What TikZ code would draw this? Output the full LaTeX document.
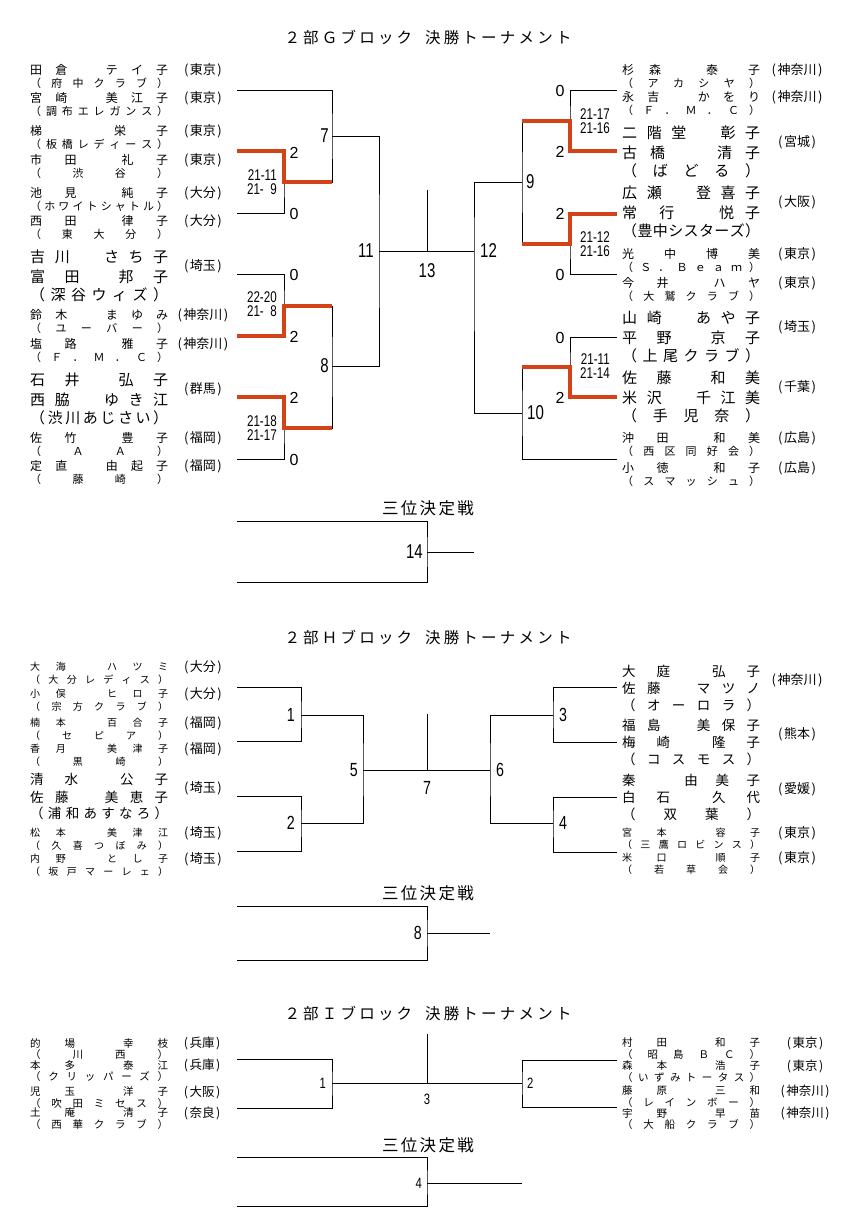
\documentclass[tikz,border=0pt]{standalone}
\usepackage{fontspec}
\setmainfont{Noto Sans CJK JP}
\newfontfamily\numfont{Liberation Sans}[FakeStretch=0.75]
\newfontfamily\cntfont{Liberation Sans}
\usetikzlibrary{calc, positioning}
\definecolor{winRed}{RGB}{212, 66, 24}

%% spread the characters of #2 evenly over a box #1 wide
\newcommand\spr[2][138pt]{\makebox[#1][s]{\expandafter\sprA#2\relax}}
\def\sprA#1{#1\futurelet\sprN\sprB}
\def\sprB{\ifx\sprN\relax\expandafter\sprZ\else\hfill\expandafter\sprA\fi}
\def\sprZ\relax{}
\newcommand\prf[1]{(\kern1.5pt#1\kern1.5pt)}

\begin{document}
\begin{tikzpicture}[
  x=1pt, y=-1pt,
  %% bracket line
  brk/.style={line width=0.8pt},
  %% winner path
  win/.style={draw=winRed, line width=3.5pt},
  %% player rows
  plyr/.style={anchor=west, inner sep=0pt},
  gNm/.style={plyr, font=\fontsize{12}{14}\selectfont},
  gCl/.style={plyr, font=\fontsize{11}{13}\selectfont},
  gBig/.style={plyr, font=\fontsize{15}{17}\selectfont},
  hNm/.style={plyr, font=\fontsize{10}{12}\selectfont},
  hBig/.style={plyr, font=\fontsize{13.5}{15}\selectfont},
  iNm/.style={plyr, font=\fontsize{10.5}{12}\selectfont},
  %% prefecture tag
  pref/.style={inner sep=0pt, font=\fontsize{13}{15}\selectfont},
  iPref/.style={inner sep=0pt, font=\fontsize{12.5}{14}\selectfont},
  %% match numbers
  mno/.style={inner sep=0pt, font=\numfont\fontsize{20}{20}\selectfont},
  hMno/.style={inner sep=0pt, font=\numfont\fontsize{19}{19}\selectfont},
  iMno/.style={inner sep=0pt, font=\numfont\fontsize{15}{15}\selectfont},
  %% games won
  cnt/.style={inner sep=0pt, font=\cntfont\fontsize{16}{16}\selectfont},
  %% game scores (one line each)
  scr/.style={inner sep=0pt, anchor=east, font=\numfont\fontsize{15.5}{15.5}\selectfont},
  %% headings
  ttl/.style={inner sep=0pt, font=\fontsize{15.5}{17}\selectfont},
  ttl3/.style={inner sep=0pt, font=\fontsize{16.5}{18}\selectfont},
]

\fill[white] (0,0) rectangle (843,1225);
\useasboundingbox (0,0) rectangle (843,1225);

%% ── X positions ────────────────────────────────────────────────────────────
\def\xLn{30}    % left names
\def\xRn{622}   % right names
\def\xLp{203}   % left prefecture
\def\xRp{797}   % right prefecture
\def\xLe{237}   % left line ends
\def\xRe{617}   % right line ends
\def\xLs{277}   % left score right edge
\def\xRs{610}   % right score right edge

%% ════════════════════════════════════════════════════════════════════════════
%% ── G BLOCK ────────────────────────────────────────────────────────────────
\node[ttl] (gTitle) at (428,37) {\spr[287pt]{２部Ｇブロック{}{}{}決勝トーナメント}};

%% left players
\foreach \y/\txt/\clb/\pf [count=\i] in {
  70/田倉　テイ子/（府中クラブ）/東京,
  98/宮崎　美江子/（調布エレガンス）/東京,
  131/梯　栄子/（板橋レディース）/東京,
  160/市田{}礼子/（渋谷）/東京,
  193/池見{}純子/（ホワイトシャトル）/大分,
  221/西田{}律子/（東大分）/大分,
  315/鈴木　まゆみ/（ユーバー）/神奈川,
  344/塩路{}雅子/（Ｆ．Ｍ．Ｃ）/神奈川,
  438/佐竹{}豊子/（ＡＡ）/福岡,
  466/定直　由起子/（藤崎）/福岡}{
  \node[gNm] (gLn\i) at (\xLn,\y) {\spr{\txt}};
  \node[gCl] (gLc\i) at (\xLn,\y+13.5) {\spr{\clb}};
  \node[pref] (gLp\i) at (\xLp,\y) {\prf{\pf}};
}
\foreach \y/\txa/\txb/\clb/\pf [count=\i] in {
  257/吉川　さち子/富田{}邦子/（深谷ウィズ）/埼玉,
  380/石井{}弘子/西脇　ゆき江/（渋川あじさい）/群馬}{
  \node[gBig] (gLa\i) at (\xLn,\y) {\spr{\txa}};
  \node[gBig] (gLb\i) at (\xLn,\y+20) {\spr{\txb}};
  \node[gBig] (gLk\i) at (\xLn,\y+38) {\spr{\clb}};
  \node[pref] (gLq\i) at (\xLp,\y+9.5) {\prf{\pf}};
}

%% right players
\foreach \y/\txt/\clb/\pf [count=\i] in {
  70/杉森{}{}泰{}子/（アカシヤ）/神奈川,
  97/永吉　かをり/（Ｆ．Ｍ．Ｃ）/神奈川,
  254/光中博美/（Ｓ．Ｂｅａｍ）/東京,
  283/今井{}ハヤ/（大鷲クラブ）/東京,
  438/沖田{}和美/（西区同好会）/広島,
  468/小徳{}和子/（スマッシュ）/広島}{
  \node[gNm] (gRn\i) at (\xRn,\y) {\spr{\txt}};
  \node[gCl] (gRc\i) at (\xRn,\y+13.5) {\spr{\clb}};
  \node[pref] (gRp\i) at (\xRp,\y) {\prf{\pf}};
}
\foreach \y/\txa/\txb/\clb/\pf [count=\i] in {
  133/二階堂　彰子/古橋{}{}{}清子/（ばどる）/宮城,
  193/広瀬　登喜子/常{}行{}{}{}悦子/（豊中シスターズ）/大阪,
  318/山崎　あや子/平野{}京子/（上尾クラブ）/埼玉,
  378/佐藤{}和美/米沢　千江美/（手児奈）/千葉}{
  \node[gBig] (gRa\i) at (\xRn,\y) {\spr{\txa}};
  \node[gBig] (gRb\i) at (\xRn,\y+20) {\spr{\txb}};
  \node[gBig] (gRk\i) at (\xRn,\y+38) {\spr{\clb}};
  \node[pref] (gRq\i) at (\xRp,\y+9.5) {\prf{\pf}};
}

%% bracket points
\coordinate (gL1) at (\xLe,90);
\coordinate (gL2) at (\xLe,151);
\coordinate (gL3) at (\xLe,213);
\coordinate (gL4) at (\xLe,274);
\coordinate (gL5) at (\xLe,336);
\coordinate (gL6) at (\xLe,397);
\coordinate (gL7) at (\xLe,459);
\coordinate (gR1) at (\xRe,90);
\coordinate (gR2) at (\xRe,151);
\coordinate (gR3) at (\xRe,214);
\coordinate (gR4) at (\xRe,274);
\coordinate (gR5) at (\xRe,337);
\coordinate (gR6) at (\xRe,397);
\coordinate (gR7) at (\xRe,459);
\coordinate (gJa) at (284,182);
\coordinate (gJb) at (284,306);
\coordinate (gJc) at (284,428);
\coordinate (gJ7) at (332,136);
\coordinate (gJ8) at (332,366);
\coordinate (gJ11) at (379,251);
\coordinate (gJ13) at (427,251);
\coordinate (gT13) at (427,190);
\coordinate (gJ12) at (474,251);
\coordinate (gJ9) at (522,182);
\coordinate (gJ10) at (522,413);
\coordinate (gJd) at (570,121);
\coordinate (gJe) at (570,244);
\coordinate (gJf) at (570,367);

%% bracket lines
\draw[brk] (gL2) -| (gJa) |- (gL3);
\draw[brk] (gL4) -| (gJb) |- (gL5);
\draw[brk] (gL6) -| (gJc) |- (gL7);
\draw[brk] (gL1) -| (gJ7) |- (gJa);
\draw[brk] (gJb) -| (gJ8) |- (gJc);
\draw[brk] (gJ7) -| (gJ11) |- (gJ8);
\draw[brk] (gJ11) -- (gJ12);
\draw[brk] (gT13) -- (gJ13);
\draw[brk] (gJ9) -| (gJ12) |- (gJ10);
\draw[brk] (gJd) -| (gJ9) |- (gJe);
\draw[brk] (gJf) -| (gJ10) |- (gR7);
\draw[brk] (gR1) -| (gJd) |- (gR2);
\draw[brk] (gR3) -| (gJe) |- (gR4);
\draw[brk] (gR5) -| (gJf) |- (gR6);

%% winners
\draw[win] (gL2) -| (gJa) -- (gJa -| gJ7);
\draw[win] (gL5) -| (gJb) -- (gJb -| gJ8);
\draw[win] (gL6) -| (gJc) -- (gJc -| gJ8);
\draw[win] (gR2) -| (gJd) -- (gJd -| gJ9);
\draw[win] (gR3) -| (gJe) -- (gJe -| gJ9);
\draw[win] (gR6) -| (gJf) -- (gJf -| gJ10);

%% match numbers
\node[mno, left=3pt of gJ7] (gN7) {7};
\node[mno, left=3pt of gJ8] (gN8) {8};
\node[mno, left=5pt of gJ11] (gN11) {11};
\node[mno, below=12pt of gJ13] (gN13) {13};
\node[mno, right=6pt of gJ12] (gN12) {12};
\node[mno, right=4pt of gJ9] (gN9) {9};
\node[mno, right=5pt of gJ10] (gN10) {10};

%% games won
\node[cnt] (gCa) at (294,153) {2};
\node[cnt] (gCb) at (294,214) {0};
\node[cnt] (gCc) at (294,275) {0};
\node[cnt] (gCd) at (294,337) {2};
\node[cnt] (gCe) at (294,398) {2};
\node[cnt] (gCf) at (294,460) {0};
\node[cnt] (gCg) at (560,91) {0};
\node[cnt] (gCh) at (560,152) {2};
\node[cnt] (gCi) at (560,214) {2};
\node[cnt] (gCj) at (560,275) {0};
\node[cnt] (gCk) at (560,338) {0};
\node[cnt] (gCl) at (560,398) {2};

%% scores
\foreach \x/\y/\sa/\sb [count=\i] in {
  \xLs/182/21-11/21-\phantom{1}9,
  \xLs/304/22-20/21-\phantom{1}8,
  \xLs/428/21-18/21-17,
  \xRs/121/21-17/21-16,
  \xRs/244/21-12/21-16,
  \xRs/366/21-11/21-14}{
  \node[scr] (gSa\i) at (\x,\y-7) {\sa};
  \node[scr] (gSb\i) at (\x,\y+7.5) {\sb};
}

%% third place
\node[ttl3] (g3Title) at (428,508) {\spr[92pt]{三位決定戦}};
\coordinate (g3a) at (\xLe,521);
\coordinate (g3b) at (\xLe,582);
\coordinate (gJ14) at (427,552);
\coordinate (gO14) at (474,552);
\draw[brk] (g3a) -| (gJ14) |- (g3b);
\draw[brk] (gJ14) -- (gO14);
\node[mno, left=4pt of gJ14] (gN14) {14};

%% ════════════════════════════════════════════════════════════════════════════
%% ── H BLOCK ────────────────────────────────────────────────────────────────
\node[ttl] (hTitle) at (428,637) {\spr[287pt]{２部Ｈブロック{}{}{}決勝トーナメント}};

\foreach \y/\txt/\clb/\pf [count=\i] in {
  667/大海　ハツミ/（大分レディス）/大分,
  694/小俣　ヒロ子/（宗方クラブ）/大分,
  723/楠本　百合子/（セピア）/福岡,
  749/香月　美津子/（黒崎）/福岡,
  833/松本　美津江/（久喜つぼみ）/埼玉,
  859/内野　とし子/（坂戸マーレェ）/埼玉}{
  \node[hNm] (hLn\i) at (\xLn,\y) {\spr{\txt}};
  \node[hNm] (hLc\i) at (\xLn,\y+13) {\spr{\clb}};
  \node[pref] (hLp\i) at (\xLp,\y) {\prf{\pf}};
}
\node[hBig] (hLa1) at (\xLn,779) {\spr{清水{}公子}};
\node[hBig] (hLb1) at (\xLn,797) {\spr{佐藤　美恵子}};
\node[hBig] (hLk1) at (\xLn,813) {\spr{（浦和あすなろ）}};
\node[pref] (hLq1) at (\xLp,788) {\prf{埼玉}};

\foreach \y/\txa/\txb/\clb/\pf [count=\i] in {
  671/大庭{}弘子/佐藤　マツノ/（オーロラ）/神奈川,
  725/福島　美保子/梅崎{}隆子/（コスモス）/熊本,
  780/秦　由美子/白石{}久代/（双葉）/愛媛}{
  \node[hBig] (hRa\i) at (\xRn,\y) {\spr{\txa}};
  \node[hBig] (hRb\i) at (\xRn,\y+17) {\spr{\txb}};
  \node[hBig] (hRk\i) at (\xRn,\y+34) {\spr{\clb}};
  \node[pref] (hRq\i) at (\xRp,\y+9) {\prf{\pf}};
}
\foreach \y/\txt/\clb/\pf [count=\i] in {
  833/宮本{}容子/（三鷹ロビンス）/東京,
  858/米口{}順子/（若草会）/東京}{
  \node[hNm] (hRn\i) at (\xRn,\y) {\spr{\txt}};
  \node[hNm] (hRc\i) at (\xRn,\y+12) {\spr{\clb}};
  \node[pref] (hRp\i) at (\xRp,\y) {\prf{\pf}};
}

%% bracket points
\coordinate (hL1) at (\xLe,687);
\coordinate (hL2) at (\xLe,741);
\coordinate (hL3) at (\xLe,796);
\coordinate (hL4) at (\xLe,851);
\coordinate (hR1) at (\xRe,687);
\coordinate (hR2) at (\xRe,742);
\coordinate (hR3) at (\xRe,797);
\coordinate (hR4) at (\xRe,852);
\coordinate (hJ1) at (301,715);
\coordinate (hJ2) at (301,823);
\coordinate (hJ5) at (363,770);
\coordinate (hJ7) at (427,770);
\coordinate (hT7) at (427,714);
\coordinate (hJ6) at (490,770);
\coordinate (hJ3) at (553,715);
\coordinate (hJ4) at (553,823);

\draw[brk] (hL1) -| (hJ1) |- (hL2);
\draw[brk] (hL3) -| (hJ2) |- (hL4);
\draw[brk] (hJ1) -| (hJ5) |- (hJ2);
\draw[brk] (hJ5) -- (hJ6);
\draw[brk] (hT7) -- (hJ7);
\draw[brk] (hJ3) -| (hJ6) |- (hJ4);
\draw[brk] (hR1) -| (hJ3) |- (hR2);
\draw[brk] (hR3) -| (hJ4) |- (hR4);

\node[hMno, left=6pt of hJ1] (hN1) {1};
\node[hMno, left=6pt of hJ2] (hN2) {2};
\node[hMno, left=5pt of hJ5] (hN5) {5};
\node[hMno, below=11pt of hJ7] (hN7) {7};
\node[hMno, right=6pt of hJ6] (hN6) {6};
\node[hMno, right=6pt of hJ3] (hN3) {3};
\node[hMno, right=6pt of hJ4] (hN4) {4};

%% third place
\node[ttl3] (h3Title) at (428,893) {\spr[92pt]{三位決定戦}};
\coordinate (h3a) at (\xLe,906);
\coordinate (h3b) at (\xLe,960);
\coordinate (hJ8) at (427,933);
\coordinate (hO8) at (490,933);
\draw[brk] (h3a) -| (hJ8) |- (h3b);
\draw[brk] (hJ8) -- (hO8);
\node[hMno, left=5pt of hJ8] (hN8) {8};

%% ════════════════════════════════════════════════════════════════════════════
%% ── I BLOCK ────────────────────────────────────────────────────────────────
\node[ttl] (iTitle) at (428,1013) {\spr[287pt]{２部Ｉブロック{}{}{}決勝トーナメント}};

\foreach \y/\txt/\clb/\pf [count=\i] in {
  1043/的場{}幸枝/（川西）/兵庫,
  1065/本多{}泰江/（クリッパーズ）/兵庫,
  1092/児玉{}洋子/（吹田ミセス）/大阪,
  1113/土庵{}清子/（西華クラブ）/奈良}{
  \node[iNm] (iLn\i) at (\xLn,\y) {\spr{\txt}};
  \node[iNm] (iLc\i) at (\xLn,\y+11) {\spr{\clb}};
  \node[iPref] (iLp\i) at (202,\y) {\prf{\pf}};
}
\foreach \y/\txt/\clb/\pf [count=\i] in {
  1043/村田{}和子/（昭島ＢＣ）/東京,
  1066/森本{}浩子/（いずみトータス）/東京,
  1091/藤原{}三和/（レインボー）/神奈川,
  1113/宇野{}早苗/（大船クラブ）/神奈川}{
  \node[iNm] (iRn\i) at (\xRn,\y) {\spr{\txt}};
  \node[iNm] (iRc\i) at (\xRn,\y+11) {\spr{\clb}};
  \node[iPref] (iRp\i) at (805,\y) {\prf{\pf}};
}

\coordinate (iL1) at (\xLe,1059);
\coordinate (iL2) at (\xLe,1108);
\coordinate (iR1) at (\xRe,1060);
\coordinate (iR2) at (\xRe,1107);
\coordinate (iJ1) at (332,1083);
\coordinate (iJ3) at (427,1083);
\coordinate (iT3) at (427,1034);
\coordinate (iJ2) at (522,1083);

\draw[brk] (iL1) -| (iJ1) |- (iL2);
\draw[brk] (iJ1) -- (iJ2);
\draw[brk] (iT3) -- (iJ3);
\draw[brk] (iR1) -| (iJ2) |- (iR2);

\node[iMno, left=6pt of iJ1] (iN1) {1};
\node[iMno, right=5pt of iJ2] (iN2) {2};
\node[iMno, below=11pt of iJ3] (iN3) {3};

%% third place
\node[ttl3] (i3Title) at (428,1145) {\spr[92pt]{三位決定戦}};
\coordinate (i3a) at (\xLe,1157);
\coordinate (i3b) at (\xLe,1206);
\coordinate (iJ4) at (427,1183);
\coordinate (iO4) at (522,1183);
\draw[brk] (i3a) -| (iJ4) |- (i3b);
\draw[brk] (iJ4) -- (iO4);
\node[iMno, left=5pt of iJ4] (iN4) {4};

\end{tikzpicture}
\end{document}
